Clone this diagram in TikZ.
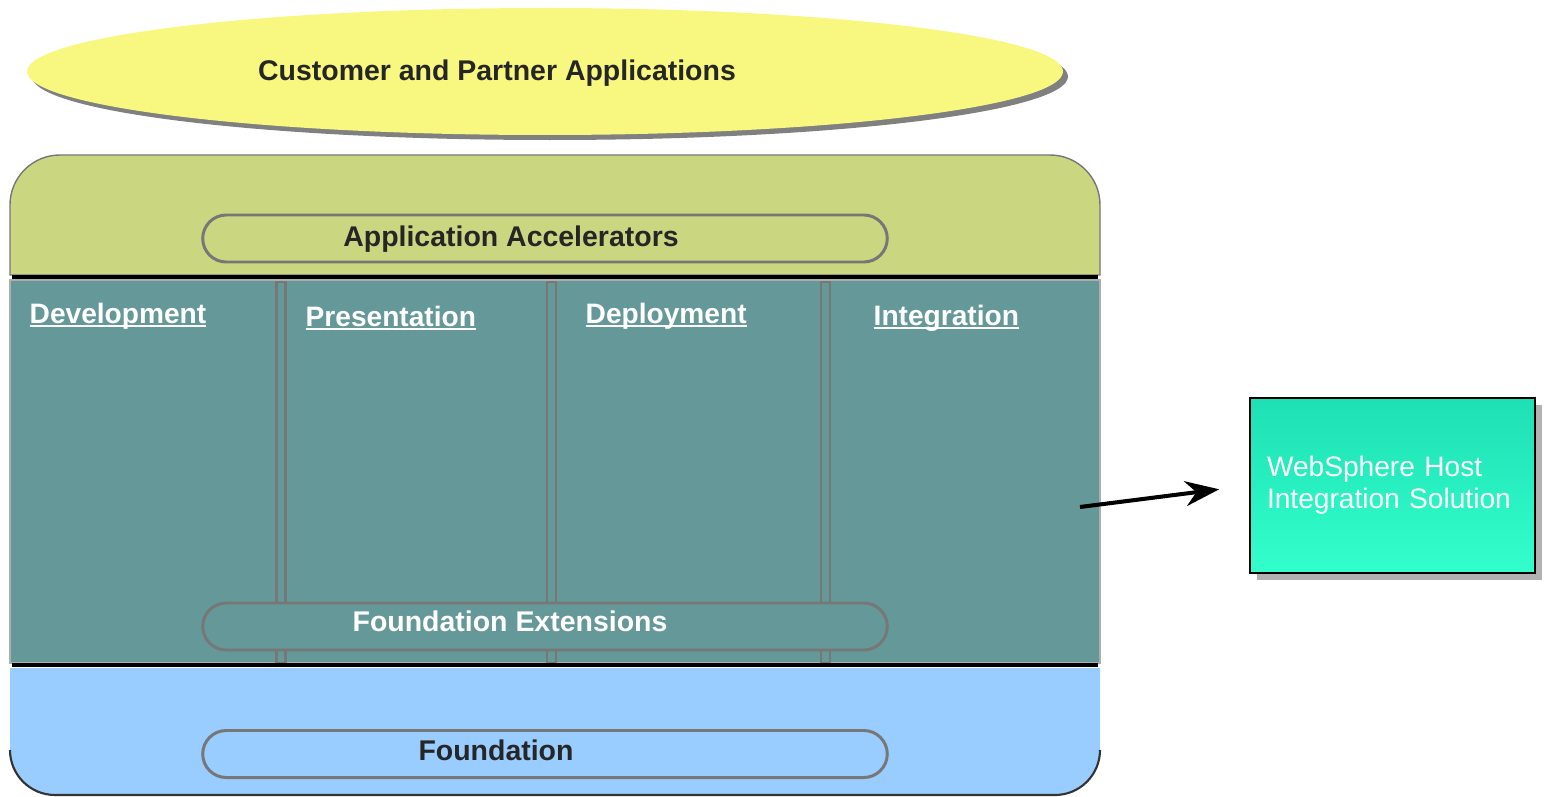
\documentclass[tikz,border=0pt]{standalone}
\usepackage{fontspec}
\setmainfont{Liberation Sans}
\usetikzlibrary{shapes.geometric,shapes.misc,shadows,arrows.meta}

% underline sitting just under the baseline
\newcommand\colul[1]{\setbox0\hbox{#1}\rlap{\rule[-1.1pt]{\wd0}{0.55pt}}\box0}

\begin{document}
\begin{tikzpicture}[
  pill/.style={rounded rectangle, draw=pill_gray, line width=0.85pt, minimum width=7.08cm, minimum height=0.47cm},
  layer title/.style={inner sep=0pt, text=black!85, font=\fontsize{8.1}{9.1}\selectfont\bfseries},
  column title/.style={anchor=west, inner sep=0pt, text=white, font=\fontsize{8}{9.1}\selectfont\bfseries},
  separator/.style={draw=pill_gray, line width=0.6pt, fill=teal_core},
  host box/.style={rectangle, draw=black, line width=0.6pt, top color=host_top, bottom color=host_bottom,
    minimum width=2.85cm, minimum height=1.75cm, text width=2.51cm, inner xsep=0.17cm, align=left,
    text=white, font=\fontsize{8}{9.1}\selectfont,
    drop shadow={shadow xshift=0.07cm, shadow yshift=-0.07cm, fill=black!30, opacity=1}},
  flow/.style={line width=1.15pt, -{Stealth[length=0.34cm,width=0.25cm]}, shorten >=0.3cm}]

    \definecolor{yellow_top}{HTML}{F8F880}
    \definecolor{green_band}{HTML}{CBD780}
    \definecolor{teal_core}{HTML}{659898}
    \definecolor{blue_base}{HTML}{99CCFF}
    \definecolor{pill_gray}{HTML}{777777}
    \definecolor{host_top}{HTML}{1EE0B4}
    \definecolor{host_bottom}{HTML}{33FFCC}

  \useasboundingbox (0,0) rectangle (15.44,7.96);

  % Top layer: the applications ellipse

  \node[ellipse, fill=yellow_top, minimum width=10.36cm, minimum height=1.27cm,
    drop shadow={shadow xshift=0.05cm, shadow yshift=-0.05cm, fill=black!50, opacity=1}] (apps) at (5.45,7.245) {};
  \node[layer title] (apps_text) at (4.97,7.23) {Customer and Partner Applications};

  % Middle frame: accelerators, columns and extensions

  \draw[fill=green_band, draw=pill_gray, line width=0.4pt]
    (0.10,5.21) -- (0.10,5.91) arc[start angle=180, end angle=90, radius=0.5]
    -- (10.50,6.41) arc[start angle=90, end angle=0, radius=0.5] -- (11.00,5.21) -- cycle;
  \draw[fill=teal_core, draw=pill_gray!60, line width=0.4pt] (0.10,1.33) rectangle (11.00,5.16);
  \draw[fill=blue_base, draw=none]
    (0.10,1.28) -- (0.10,0.46) arc[start angle=180, end angle=270, radius=0.45]
    -- (10.55,0.01) arc[start angle=270, end angle=360, radius=0.45] -- (11.00,1.28) -- cycle;
  \draw[black!80, line width=0.6pt] (0.10,0.46) arc[start angle=180, end angle=270, radius=0.45]
    -- (10.55,0.01) arc[start angle=270, end angle=360, radius=0.45];

  \foreach \x in {2.81,5.515,8.255}
    \draw[separator] (\x-0.045,1.33) rectangle (\x+0.045,5.14);

  \draw[line width=1.1pt] (0.12,5.19) -- (10.98,5.19);
  \draw[line width=1.1pt] (0.12,1.31) -- (10.98,1.31);

  \node[pill, fill=green_band] (accel) at (5.45,5.575) {};
  \node[pill, fill=teal_core] (ext) at (5.45,1.695) {};
  \node[pill, fill=blue_base] (found) at (5.45,0.42) {};

  \node[layer title] (accel_text) at (5.11,5.57) {Application Accelerators};
  \node[layer title, text=white] (ext_text) at (5.10,1.75) {Foundation Extensions};
  \node[layer title] (found_text) at (4.96,0.46) {Foundation};

  \node[column title] (dev) at (0.29,4.80) {\colul{Development}};
  \node[column title] (pres) at (3.05,4.78) {\colul{Presentation}};
  \node[column title] (depl) at (5.85,4.80) {\colul{Deployment}};
  \node[column title] (integ) at (8.73,4.78) {\colul{Integration}};

  % Host integration solution and its arrow

  \node[host box] (host) at (13.925,3.105) {WebSphere Host\\Integration Solution};

  \coordinate (tail) at (10.80,2.89);
  \draw[flow] (tail) -- (host.west);

\end{tikzpicture}
\end{document}
